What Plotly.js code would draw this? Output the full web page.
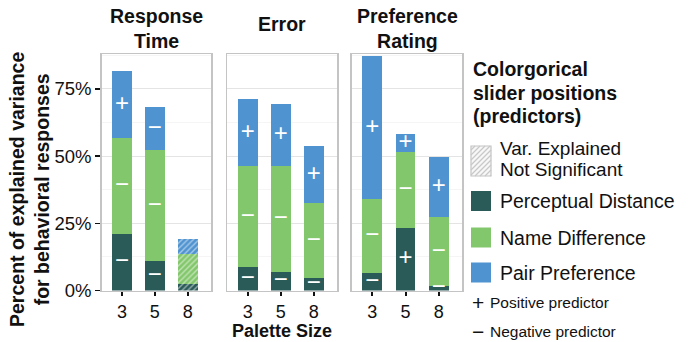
<!DOCTYPE html>
<html><head><meta charset="utf-8">
<script src="https://cdn.plot.ly/plotly-3.0.1.min.js"></script>
<style>body{margin:0;padding:0;background:#fff}#chart{width:690px;height:342px}</style>
</head><body><div id="chart"></div>
<script>
// ---- data ----
const paletteSizes = ['3', '5', '8'];
const taskTitles = ['Response<br>Time', 'Error', 'Preference<br>Rating'];
const predictorNames = ['Perceptual Distance', 'Name Difference', 'Pair Preference'];

const rtPerceptual = [21.0, 11.0, 2.5];
const rtName       = [35.7, 41.2, 11.0];
const rtPair       = [24.9, 16.0, 5.6];
const rtSignificant = [true, true, false];
const rtPerceptualSign = ['−', '−', ''];
const rtNameSign       = ['−', '−', ''];
const rtPairSign       = ['+', '−', ''];

const errPerceptual = [8.7, 6.9, 4.6];
const errName       = [37.6, 39.4, 27.9];
const errPair       = [24.9, 23.0, 21.2];
const errSignificant = [true, true, true];
const errPerceptualSign = ['−', '−', '−'];
const errNameSign       = ['−', '−', '−'];
const errPairSign       = ['+', '+', '+'];

const prefPerceptual = [6.5, 23.2, 1.7];
const prefName       = [27.5, 28.3, 25.6];
const prefPair       = [53.2, 6.7, 22.3];
const prefSignificant = [true, true, true];
const prefPerceptualSign = ['−', '+', '−'];
const prefNameSign       = ['−', '−', '−'];
const prefPairSign       = ['+', '+', '+'];

const yTickVals = [0, 25, 50, 75];
const yTickText = ['0%', '25%', '50%', '75%'];

// ---- style ----
const colors = ['#2a5b59', '#83c76c', '#4f93d0'];
const W = 690, H = 342;
const px = x => x / W, py = y => 1 - y / H;
const FONT = 'Liberation Sans, Arial, sans-serif';

const panels = [
  {vals: [rtPerceptual, rtName, rtPair], signs: [rtPerceptualSign, rtNameSign, rtPairSign], sig: rtSignificant, x0: 101.7, x1: 211},
  {vals: [errPerceptual, errName, errPair], signs: [errPerceptualSign, errNameSign, errPairSign], sig: errSignificant, x0: 227.3, x1: 337.3},
  {vals: [prefPerceptual, prefName, prefPair], signs: [prefPerceptualSign, prefNameSign, prefPairSign], sig: prefSignificant, x0: 351.7, x1: 462.3}
];

const traces = [];
const layout = {
  width: W, height: H, margin: {l: 0, r: 0, t: 0, b: 0},
  paper_bgcolor: '#fff', plot_bgcolor: '#fff',
  barmode: 'stack', bargap: 0.4, showlegend: false,
  font: {family: FONT, color: '#111', size: 18},
  annotations: [], shapes: []
};

panels.forEach((p, i) => {
  const xa = i === 0 ? 'x' : 'x' + (i + 1);
  const ya = i === 0 ? 'y' : 'y' + (i + 1);
  const cum = [0, 0, 0];
  p.vals.forEach((v, k) => {
    traces.push({
      type: 'bar', x: paletteSizes, y: v, xaxis: xa, yaxis: ya, name: predictorNames[k],
      marker: {
        color: colors[k], line: {width: 0},
        pattern: {shape: p.sig.map(s => s ? '' : '/'), fillmode: 'overlay', fgcolor: '#ffffff', fgopacity: 0.5, size: 4, solidity: 0.35}
      },
      hoverinfo: 'skip'
    });
    const mids = v.map((val, j) => cum[j] + val / 2);
    v.forEach((val, j) => cum[j] += val);
    traces.push({
      type: 'scatter', mode: 'text', x: paletteSizes, y: mids, xaxis: xa, yaxis: ya,
      text: p.signs[k], textposition: 'middle center',
      textfont: {color: '#ffffff', size: 24, family: FONT}, cliponaxis: false, hoverinfo: 'skip'
    });
  });
  const axKey = i === 0 ? 'xaxis' : 'xaxis' + (i + 1);
  const ayKey = i === 0 ? 'yaxis' : 'yaxis' + (i + 1);
  layout[axKey] = {
    domain: [px(p.x0), px(p.x1)], anchor: ya, type: 'category', range: [-0.62, 2.71],
    showline: true, linecolor: '#c4c4c4', linewidth: 1.5, mirror: true,
    ticks: 'outside', ticklen: 4, tickwidth: 2, tickcolor: '#111',
    tickfont: {size: 18, color: '#111', family: FONT}, showgrid: false, zeroline: false, fixedrange: true
  };
  layout[ayKey] = {
    domain: [py(290.5), py(54)], anchor: xa, range: [0, 88],
    tickvals: yTickVals, ticktext: yTickText,
    showticklabels: i === 0, ticks: i === 0 ? 'outside' : '', ticklen: 5, tickwidth: 1.5, tickcolor: '#111',
    tickfont: {size: 18.5, color: '#111', family: FONT},
    showgrid: true, gridcolor: '#e4e4e4', gridwidth: 1,
    minor: {dtick: 12.5, tick0: 0, showgrid: true, gridcolor: '#f5f5f5', ticks: ''},
    showline: true, linecolor: '#c4c4c4', linewidth: 1.5, mirror: true, zeroline: false, fixedrange: true
  };
  layout.annotations.push({
    xref: 'paper', yref: 'paper', x: px((p.x0 + p.x1) / 2), y: py(i === 1 ? 24 : 28),
    xanchor: 'center', yanchor: 'middle', showarrow: false, text: '<b>' + taskTitles[i] + '</b>',
    font: {size: 19.5, color: '#111', family: FONT}
  });
});

// axis titles
layout.annotations.push({
  xref: 'paper', yref: 'paper', x: px(282), y: py(331), xanchor: 'center', yanchor: 'middle', showarrow: false,
  text: '<b>Palette Size</b>', font: {size: 18, color: '#111', family: FONT}
});
layout.annotations.push({
  xref: 'paper', yref: 'paper', x: px(29), y: py(190), xanchor: 'center', yanchor: 'middle', showarrow: false,
  textangle: -90, text: '<b>Percent of explained variance<br>for behavioral responses</b>',
  font: {size: 19.5, color: '#111', family: FONT}
});

// legend (custom)
const lx = 472;
['Colorgorical', 'slider positions', '(predictors)'].forEach((t, i) => {
  layout.annotations.push({xref: 'paper', yref: 'paper', x: px(lx - 1), y: py(69 + i * 23.5), xanchor: 'left', yanchor: 'middle',
    showarrow: false, text: '<b>' + t + '</b>', font: {size: 19.5, color: '#111', family: FONT}});
});
// hatched legend box
const hb = {x0: 471, y0: 146, x1: 491, y1: 176};
let hp = '';
for (let c = hb.x0 + hb.y0 + 4; c < hb.x1 + hb.y1; c += 5) {
  const xa = Math.max(hb.x0, c - hb.y1), xb = Math.min(hb.x1, c - hb.y0);
  if (xb <= xa) continue;
  hp += `M${px(xa)},${py(c - xa)}L${px(xb)},${py(c - xb)}`;
}
layout.shapes.push({type: 'rect', xref: 'paper', yref: 'paper', x0: px(hb.x0), x1: px(hb.x1), y0: py(hb.y1), y1: py(hb.y0),
  fillcolor: '#f7f7f7', line: {color: '#c4c4c4', width: 1.2}});
layout.shapes.push({type: 'path', xref: 'paper', yref: 'paper', path: hp, line: {color: '#c8c8c8', width: 1.2}});
['Var. Explained', 'Not Significant'].forEach((t, i) => {
  layout.annotations.push({xref: 'paper', yref: 'paper', x: px(498), y: py(149 + i * 20), xanchor: 'left', yanchor: 'middle',
    showarrow: false, text: t, font: {size: 19, color: '#111', family: FONT}});
});
const boxY = [191, 227.5, 262.5];
predictorNames.forEach((n, k) => {
  layout.shapes.push({type: 'rect', xref: 'paper', yref: 'paper', x0: px(471), x1: px(491), y0: py(boxY[k] + 20), y1: py(boxY[k]),
    fillcolor: colors[k], line: {width: 0}});
  layout.annotations.push({xref: 'paper', yref: 'paper', x: px(498), y: py(boxY[k] + 10), xanchor: 'left', yanchor: 'middle',
    showarrow: false, text: n, font: {size: 19.5, color: '#111', family: FONT}});
});
[['+', 'Positive predictor', 302.5], ['−', 'Negative predictor', 331.5]].forEach(([s, t, y]) => {
  layout.annotations.push({xref: 'paper', yref: 'paper', x: px(477.5), y: py(y), xanchor: 'center', yanchor: 'middle',
    showarrow: false, text: s, font: {size: 21, color: '#111', family: FONT}});
  layout.annotations.push({xref: 'paper', yref: 'paper', x: px(488), y: py(y), xanchor: 'left', yanchor: 'middle',
    showarrow: false, text: t, font: {size: 15.5, color: '#111', family: FONT}});
});

Plotly.newPlot('chart', traces, layout, {staticPlot: true, displayModeBar: false});
</script></body></html>
